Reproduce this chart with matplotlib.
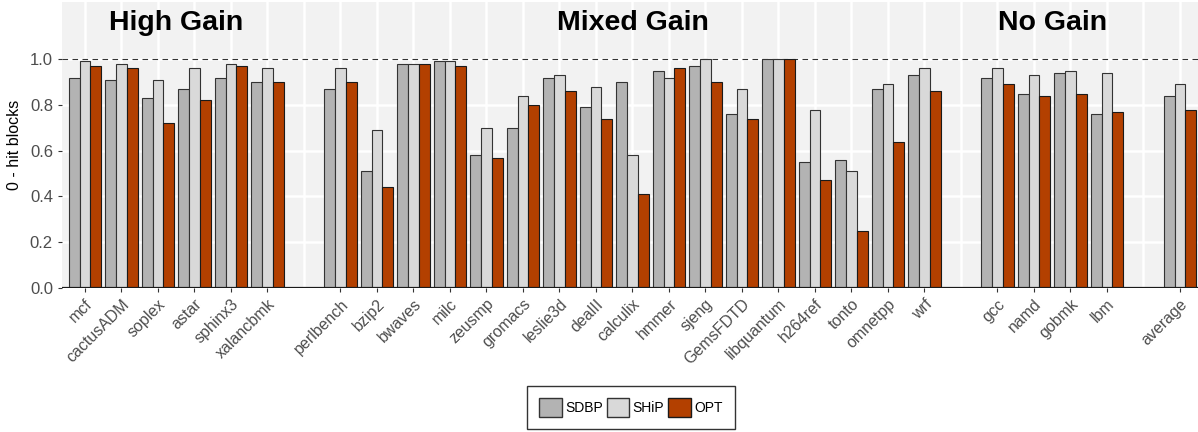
import numpy as np
import matplotlib.pyplot as plt
from matplotlib.patches import Patch

plt.rcParams['font.family'] = ['Liberation Sans', 'DejaVu Sans']

# benchmark groups (an empty slot is left after each group)
high_gain = ['mcf', 'cactusADM', 'soplex', 'astar', 'sphinx3', 'xalancbmk']
mixed_gain = ['perlbench', 'bzip2', 'bwaves', 'milc', 'zeusmp', 'gromacs', 'leslie3d',
              'dealII', 'calculix', 'hmmer', 'sjeng', 'GemsFDTD', 'libquantum',
              'h264ref', 'tonto', 'omnetpp', 'wrf']
no_gain = ['gcc', 'namd', 'gobmk', 'lbm']
avg = ['average']

sdbp = [0.92, 0.91, 0.83, 0.87, 0.92, 0.90,
        0.87, 0.51, 0.98, 0.99, 0.58, 0.70, 0.92, 0.79, 0.90, 0.95, 0.97, 0.76, 1.00,
        0.55, 0.56, 0.87, 0.93,
        0.92, 0.85, 0.94, 0.76,
        0.84]
ship = [0.99, 0.98, 0.91, 0.96, 0.98, 0.96,
        0.96, 0.69, 0.98, 0.99, 0.70, 0.84, 0.93, 0.88, 0.58, 0.92, 1.00, 0.87, 1.00,
        0.78, 0.51, 0.89, 0.96,
        0.96, 0.93, 0.95, 0.94,
        0.89]
opt = [0.97, 0.96, 0.72, 0.82, 0.97, 0.90,
       0.90, 0.44, 0.98, 0.97, 0.57, 0.80, 0.86, 0.74, 0.41, 0.96, 0.90, 0.74, 1.00,
       0.47, 0.25, 0.64, 0.86,
       0.89, 0.84, 0.85, 0.77,
       0.78]

groups = [high_gain, mixed_gain, no_gain, avg]
titles = ['High Gain', 'Mixed Gain', 'No Gain']

# slot positions
pos = []
labels = []
centers = []
slot = 0
for g in groups:
    start = slot
    for name in g:
        pos.append(slot)
        labels.append(name)
        slot += 1
    centers.append((start + slot - 1) / 2)
    slot += 1
pos = np.array(pos)
nslots = slot - 1

c_sdbp = '#b3b3b3'
c_ship = '#d9d9d9'
c_opt = '#b34000'

fig = plt.figure(figsize=(11.98, 4.32), dpi=100)
ax = fig.add_axes([62/1198, 1 - 288/432, 1 - 62/1198, 286/432])
ax.set_facecolor('#f2f2f2')

w = 0.3
ax.bar(pos - w, sdbp, w, color=c_sdbp, edgecolor='#333333', linewidth=0.8, zorder=3)
ax.bar(pos, ship, w, color=c_ship, edgecolor='#333333', linewidth=0.8, zorder=3)
ax.bar(pos + w, opt, w, color=c_opt, edgecolor='#1a1a1a', linewidth=0.8, zorder=3)

ax.axhline(1.0, color='#333333', linestyle=(0, (5, 4)), linewidth=0.8, zorder=2)
ax.axhline(0.0, color='#1a1a1a', linewidth=1.6, zorder=4)

for t, c in zip(titles, centers):
    ax.text(c, 1.16, t, ha='center', va='center', fontsize=20.5, fontweight='bold')

ax.set_xlim(-0.63, (1198 - 85) / 36.5)
ax.set_ylim(0, 1.25)
ax.set_xticks(pos, labels)
ax.set_xticks(range(nslots), minor=True)
ax.set_yticks([0, 0.2, 0.4, 0.6, 0.8, 1.0])
ax.set_yticklabels(['0.0', '0.2', '0.4', '0.6', '0.8', '1.0'])

ax.grid(True, which='major', color='white', linewidth=1.8, zorder=0)
ax.grid(True, which='minor', axis='x', color='white', linewidth=1.8, zorder=0)
ax.set_axisbelow(True)

for lab in ax.get_xticklabels():
    lab.set_rotation(45)
    lab.set_ha('right')
    lab.set_rotation_mode('anchor')
ax.tick_params(axis='x', which='major', length=3, color='#333333', labelsize=11.5,
               labelcolor='#4d4d4d', pad=3)
ax.tick_params(axis='x', which='minor', length=0)
ax.tick_params(axis='y', length=3, color='#333333', labelsize=12, labelcolor='#4d4d4d')
ax.set_ylabel('0 - hit blocks', fontsize=11.5, labelpad=6)

for s in ax.spines.values():
    s.set_visible(False)

handles = [Patch(facecolor=c_sdbp, edgecolor='#333333', label='SDBP'),
           Patch(facecolor=c_ship, edgecolor='#333333', label='SHiP'),
           Patch(facecolor=c_opt, edgecolor='#1a1a1a', label='OPT')]
leg = fig.legend(handles=handles, loc='center', bbox_to_anchor=(631/1198, 1 - 407.5/432),
                 ncol=3, fontsize=10, frameon=True, fancybox=False, handlelength=1.6,
                 handleheight=1.7, handletextpad=0.25, columnspacing=0.3,
                 borderpad=0.9, borderaxespad=0)
leg.get_frame().set_edgecolor('black')
leg.get_frame().set_linewidth(1.0)

fig.savefig('out.png', dpi=100)
